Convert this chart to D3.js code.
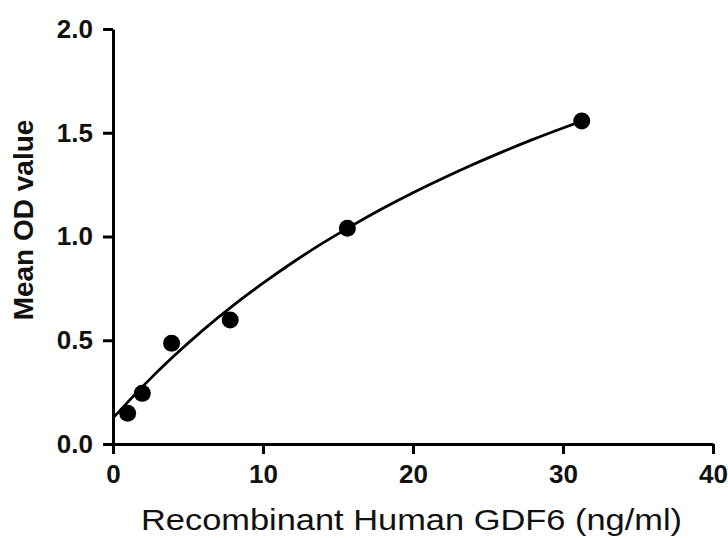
<!doctype html>
<html>
<head>
<meta charset="utf-8">
<style>
  body { margin: 0; background: #fff; font-family: "Liberation Sans", Arial, sans-serif; }
  .axis path, .axis line { stroke: #000; stroke-width: 3; }
  .axis text { font-family: "Liberation Sans", Arial, sans-serif; font-weight: bold; fill: #111; }
</style>
</head>
<body>
<div id="chart"></div>
<script src="https://cdnjs.cloudflare.com/ajax/libs/d3/7.8.5/d3.min.js"></script>
<script>
  // measured standards (ng/ml vs mean OD)
  var conc = [0.977, 1.953, 3.906, 7.8125, 15.625, 31.25]
  var od = [0.148, 0.244, 0.485, 0.598, 1.04, 1.557]

  // fitted curve
  var fitX = [0, 2, 4, 6, 8, 10, 12, 14, 16, 18, 20, 22, 24, 26, 28, 30, 31.25]
  var fitY = [0.125, 0.279, 0.42, 0.549, 0.667, 0.775, 0.876, 0.969, 1.055, 1.136, 1.211, 1.281, 1.347, 1.409, 1.468, 1.523, 1.556]

  var xTicks = [0, 10, 20, 30, 40]
  var yTicks = [0, 0.5, 1.0, 1.5, 2.0]

  var W = 728, H = 538
  var margin = { top: 29, left: 113, right: 15, bottom: 94 }
  var height = H - margin.top - margin.bottom

  var svg = d3.select('#chart').append('svg')
    .attr('width', W)
    .attr('height', H)

  var g = svg.append('g')
    .attr('transform', `translate(${margin.left},${margin.top})`)

  var x = d3.scaleLinear().domain([0, 40]).range([0, 600])
  var y = d3.scaleLinear().domain([0, 2]).range([height, 0])

  g.append('g')
    .attr('class', 'axis')
    .attr('transform', `translate(0,${height})`)
    .call(d3.axisBottom(x).tickValues(xTicks).tickSize(10).tickSizeOuter(0).tickPadding(11).tickFormat(d3.format('d')))

  g.append('g')
    .attr('class', 'axis')
    .call(d3.axisLeft(y).tickValues(yTicks).tickSize(10).tickSizeOuter(0).tickPadding(10).tickFormat(d3.format('.1f')))

  g.selectAll('.axis text').attr('font-size', 26).style('font-size', '26px')

  var line = d3.line()
    .x((d, i) => x(fitX[i]))
    .y(d => y(d))
    .curve(d3.curveMonotoneX)

  g.append('path')
    .datum(fitY)
    .attr('d', line)
    .attr('fill', 'none')
    .attr('stroke', '#000')
    .attr('stroke-width', 2.8)

  g.selectAll('circle')
    .data(conc)
    .enter().append('circle')
    .attr('cx', d => x(d))
    .attr('cy', (d, i) => y(od[i]))
    .attr('r', 8.5)
    .attr('fill', '#000')

  svg.append('text')
    .attr('x', 141)
    .attr('y', 530)
    .attr('font-size', 29)
    .attr('textLength', 541)
    .attr('lengthAdjust', 'spacingAndGlyphs')
    .attr('fill', '#111')
    .text('Recombinant Human GDF6 (ng/ml)')

  svg.append('text')
    .attr('transform', 'translate(33,220) rotate(-90)')
    .attr('text-anchor', 'middle')
    .attr('font-size', 28)
    .attr('font-weight', 'bold')
    .attr('fill', '#111')
    .text('Mean OD value')
</script>
</body>
</html>
